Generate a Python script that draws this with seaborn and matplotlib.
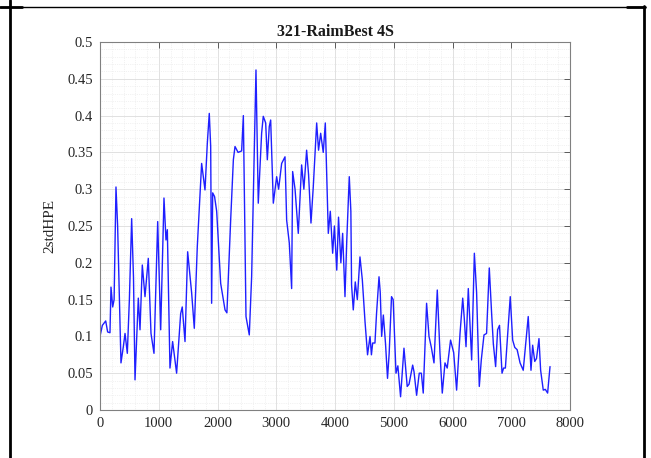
import matplotlib
matplotlib.use("Agg")
import matplotlib.pyplot as plt
from matplotlib.lines import Line2D
from matplotlib.ticker import MultipleLocator
import seaborn as sns
import pandas as pd

# Data (sample index vs 2stdHPE)
epoch = [0, 40, 97, 130, 170, 187, 216, 240, 272, 300, 357, 397, 426, 465, 500, 539,
         570, 596, 652, 681, 720, 766, 822, 868, 919, 982, 1033, 1089, 1123, 1146, 1191,
         1236, 1304, 1373, 1400, 1447, 1492, 1560, 1605, 1656, 1730, 1787, 1827, 1860,
         1884, 1900, 1918, 1950, 1986, 2054, 2128, 2160, 2224, 2270, 2298, 2350, 2411,
         2440, 2485, 2541, 2581, 2655, 2694, 2751, 2779, 2820, 2848, 2881, 2905, 2950,
         3007, 3040, 3092, 3149, 3177, 3222, 3262, 3279, 3320, 3375, 3432, 3470, 3517,
         3550, 3591, 3630, 3688, 3720, 3756, 3800, 3835, 3886, 3920, 3960, 3990, 4030,
         4060, 4100, 4130, 4170, 4200, 4243, 4270, 4282, 4311, 4345, 4380, 4425, 4465,
         4511, 4554, 4596, 4620, 4641, 4680, 4707, 4749, 4770, 4794, 4823, 4860, 4894,
         4922, 4962, 4990, 5038, 5070, 5116, 5174, 5229, 5260, 5322, 5345, 5389, 5434,
         5470, 5502, 5559, 5600, 5640, 5685, 5741, 5787, 5826, 5872, 5910, 5967, 6020,
         6070, 6128, 6174, 6200, 6230, 6269, 6326, 6372, 6410, 6456, 6490, 6536, 6580,
         6626, 6666, 6695, 6734, 6768, 6800, 6843, 6870, 6900, 6939, 6983, 7024, 7060,
         7100, 7150, 7204, 7289, 7336, 7364, 7400, 7430, 7472, 7500, 7545, 7580, 7619,
         7660]
hpe = [0.10, 0.115, 0.121, 0.106, 0.105, 0.167, 0.14, 0.15, 0.303, 0.25, 0.064, 0.086,
       0.104, 0.077, 0.15, 0.26, 0.18, 0.041, 0.152, 0.109, 0.197, 0.154, 0.206, 0.104,
       0.077, 0.256, 0.109, 0.288, 0.231, 0.245, 0.057, 0.093, 0.050, 0.131, 0.14,
       0.093, 0.215, 0.159, 0.111, 0.222, 0.335, 0.299, 0.363, 0.403, 0.358, 0.145,
       0.295, 0.29, 0.27, 0.172, 0.136, 0.132, 0.258, 0.34, 0.358, 0.35, 0.352, 0.40,
       0.127, 0.102, 0.181, 0.462, 0.281, 0.376, 0.399, 0.39, 0.34, 0.385, 0.394,
       0.281, 0.317, 0.30, 0.335, 0.344, 0.258, 0.227, 0.165, 0.324, 0.30, 0.24, 0.333,
       0.30, 0.353, 0.32, 0.254, 0.303, 0.39, 0.353, 0.376, 0.35, 0.39, 0.24, 0.27,
       0.213, 0.25, 0.19, 0.262, 0.20, 0.24, 0.154, 0.23, 0.317, 0.27, 0.17, 0.136,
       0.174, 0.15, 0.208, 0.177, 0.12, 0.075, 0.10, 0.075, 0.091, 0.091, 0.131, 0.181,
       0.16, 0.10, 0.129, 0.09, 0.043, 0.077, 0.154, 0.15, 0.05, 0.06, 0.018, 0.084,
       0.032, 0.035, 0.061, 0.052, 0.02, 0.05, 0.05, 0.023, 0.145, 0.10, 0.085, 0.064,
       0.163, 0.077, 0.023, 0.064, 0.057, 0.095, 0.078, 0.027, 0.104, 0.152, 0.125,
       0.086, 0.165, 0.068, 0.213, 0.16, 0.032, 0.068, 0.102, 0.104, 0.193, 0.131,
       0.09, 0.059, 0.109, 0.115, 0.05, 0.057, 0.057, 0.102, 0.154, 0.095, 0.085,
       0.082, 0.064, 0.054, 0.127, 0.054, 0.088, 0.066, 0.07, 0.097, 0.054, 0.027,
       0.028, 0.023, 0.059]

title = "321-RaimBest 4S"
ylabel = "2stdHPE"
xticks = [0, 1000, 2000, 3000, 4000, 5000, 6000, 7000, 8000]
yticks = [0, 0.05, 0.1, 0.15, 0.2, 0.25, 0.3, 0.35, 0.4, 0.45, 0.5]
ytick_labels = ["0", "0.05", "0.1", "0.15", "0.2", "0.25", "0.3", "0.35", "0.4", "0.45", "0.5"]

sns.set_theme(style="white")
plt.rcParams["font.family"] = ["Liberation Serif", "DejaVu Serif"]

W, H = 651, 458
fig = plt.figure(figsize=(W / 100, H / 100), dpi=100)
ax = fig.add_axes([100 / W, (H - 410) / H, 470 / W, 368 / H])

df = pd.DataFrame({"epoch": epoch, "hpe": hpe})
sns.lineplot(data=df, x="epoch", y="hpe", ax=ax, color="#1f1fff", linewidth=1.0,
             sort=False, estimator=None)

ax.set_xlim(0, 8000)
ax.set_ylim(0, 0.5)
ax.set_xticks(xticks)
ax.set_xticklabels([str(t) for t in xticks])
ax.set_yticks(yticks)
ax.set_yticklabels(ytick_labels)
ax.xaxis.set_minor_locator(MultipleLocator(200))
ax.yaxis.set_minor_locator(MultipleLocator(0.01))
ax.grid(True, which="major", color="#dcdcdc", linewidth=0.6, linestyle="-")
ax.grid(True, which="minor", color="#e6e6e6", linewidth=0.5, linestyle=":")
ax.set_axisbelow(True)
ax.tick_params(which="major", direction="in", length=4, width=0.6, color="#444444",
               top=True, right=True, labelsize=10.5, labelcolor="#262626", pad=5)
ax.tick_params(which="minor", length=0, top=True, right=True)
for s in ax.spines.values():
    s.set_color("#808080")
    s.set_linewidth(0.8)

ax.set_xlabel("")
ax.set_ylabel(ylabel, fontsize=11, color="#262626", labelpad=8)
ax.set_title(title, fontsize=11.5, fontweight="bold", color="#1a1a1a", pad=4)

# page table borders around the figure
def fx(px):
    return px / W

def fy(py):
    return 1 - py / H

fig.add_artist(Line2D([fx(10), fx(10)], [fy(0), fy(H)], color="black", linewidth=2.0))
fig.add_artist(Line2D([fx(0), fx(644)], [fy(6.5), fy(6.5)], color="black", linewidth=1.0))
fig.add_artist(Line2D([fx(0), fx(22)], [fy(6.5), fy(6.5)], color="black", linewidth=2.0))
fig.add_artist(Line2D([fx(627), fx(645)], [fy(6.5), fy(6.5)], color="black", linewidth=2.0))
fig.add_artist(Line2D([fx(644), fx(644)], [fy(6), fy(H)], color="black", linewidth=2.0))

fig.savefig("out.png", dpi=100)
